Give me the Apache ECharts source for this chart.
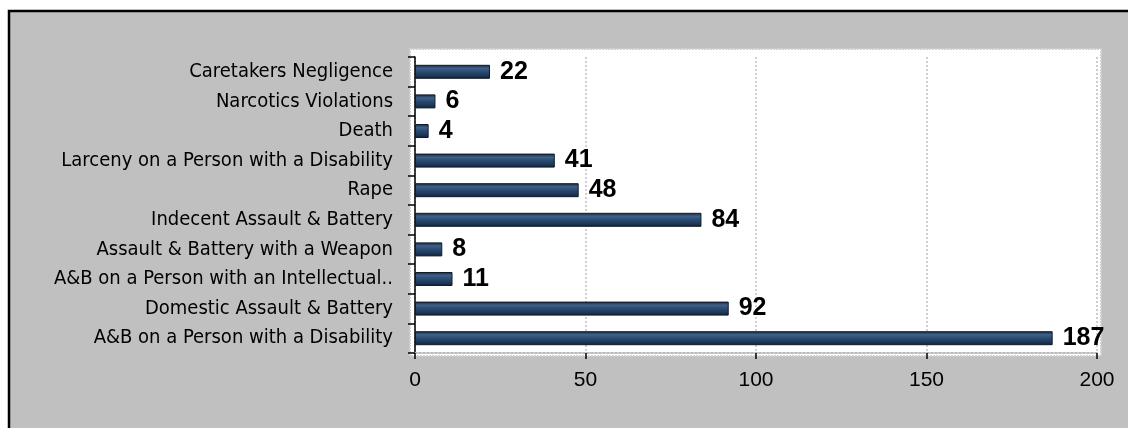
<!DOCTYPE html>
<html><head><meta charset="utf-8">
<script src="https://cdn.jsdelivr.net/npm/echarts@6/dist/echarts.min.js"></script>
<style>html,body{margin:0;padding:0;background:#fff}#c{width:1128px;height:428px}</style>
</head><body><div id="c"></div>
<script>
const categories = ["A&B on a Person with a Disability","Domestic Assault & Battery","A&B on a Person with an Intellectual..","Assault & Battery with a Weapon","Indecent Assault & Battery","Rape","Larceny on a Person with a Disability","Death","Narcotics Violations","Caretakers Negligence"];
const values = [187,92,11,8,84,48,41,4,6,22];
const xTicks = [0,50,100,150,200];

const chart = echarts.init(document.getElementById('c'));
chart.setOption({
  animation:false,
  backgroundColor:'#fff',
  graphic:[
    {type:'rect',z:-10,silent:true,shape:{x:9,y:11,width:1130,height:430},style:{fill:'#C0C0C0',stroke:'#000',lineWidth:2.5}},
    {type:'rect',z:-9,silent:true,shape:{x:410,y:49,width:691,height:307},style:{fill:'#fff',stroke:'#d0d0d0',lineWidth:2,lineDash:[2,1]}}
  ],
  grid:{left:415,right:31,top:57,bottom:75},
  xAxis:{type:'value',min:xTicks[0],max:xTicks[xTicks.length-1],interval:50,
    axisLine:{show:true,lineStyle:{color:'#bbb',type:'dotted',width:2}},
    axisTick:{show:true,length:6,lineStyle:{color:'#000',width:1.5}},
    axisLabel:{color:'#000',fontSize:21,fontFamily:'Liberation Sans, Arial, sans-serif',margin:17},
    splitLine:{show:true,lineStyle:{color:'#cfcfcf',type:'dotted',width:2}}},
  yAxis:{type:'category',data:categories,
    axisLine:{show:true,lineStyle:{color:'#000',width:1.5}},
    axisTick:{show:true,length:7,lineStyle:{color:'#000',width:1.5}},
    axisLabel:{color:'#000',fontSize:20,fontFamily:'DejaVu Sans Condensed, sans-serif',margin:22}},
  series:[{type:'bar',data:values,barWidth:14,
    itemStyle:{borderColor:'#111a28',borderWidth:1,
      color:new echarts.graphic.LinearGradient(0,0,0,1,[{offset:0,color:'#15263d'},{offset:0.25,color:'#3f6088'},{offset:0.5,color:'#2a4a70'},{offset:0.8,color:'#1d3656'},{offset:1,color:'#101c2e'}])},
    label:{show:true,position:'right',distance:10,color:'#000',fontSize:25,fontWeight:'bold',fontFamily:'Liberation Sans, Arial, sans-serif'}}]
});
</script></body></html>
